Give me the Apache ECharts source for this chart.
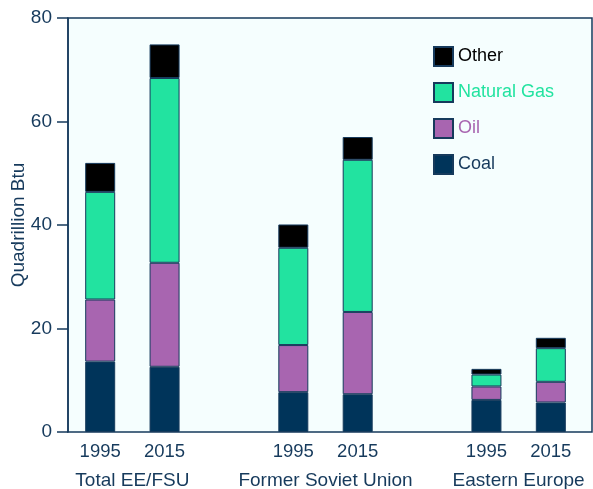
<!DOCTYPE html>
<html lang="en">
<head>
<meta charset="UTF-8">
<title>Energy consumption EE/FSU</title>
<script src="https://cdn.jsdelivr.net/npm/echarts@6/dist/echarts.min.js"></script>
<style>
  html, body { margin: 0; padding: 0; background: #fff; }
  #container { width: 593px; height: 489px; }
</style>
</head>
<body>
<div id="container"></div>
<script>
// eight slots, two empty ones separate the regions
var years = ['1995', '2015', '', '1995', '2015', '', '1995', '2015'];
// group names sit on slot boundaries (9 boundary positions)
var groups = ['', 'Total EE/FSU', '', '', 'Former Soviet Union', '', '', 'Eastern Europe', ''];

var coal  = [13.6, 12.6, '-', 7.7, 7.3, '-', 6.2, 5.7];
var oil   = [12.0, 20.1, '-', 9.1, 15.9, '-', 2.6, 4.0];
var gas   = [20.8, 35.7, '-', 18.8, 29.4, '-', 2.3, 6.5];
var other = [5.6, 6.5, '-', 4.5, 4.4, '-', 1.1, 2.0];

var yTicks = [0, 20, 40, 60, 80];

var navy = '#163a5c';
var font = 'Liberation Sans, Arial, sans-serif';

function barSeries(name, vals, color) {
    return {
        name: name,
        type: 'bar',
        stack: 'total',
        barWidth: 30,
        xAxisIndex: 0,
        yAxisIndex: 0,
        itemStyle: { color: color, borderColor: navy, borderWidth: 1 },
        data: vals
    };
}

var myChart = echarts.init(document.getElementById('container'));

var option = {
    animation: false,
    backgroundColor: '#ffffff',
    textStyle: { fontFamily: font },
    grid: [{
        // plotting grid: 8 slots of ~64.4px
        left: 68, top: 18, right: 10, bottom: 57,
        outerBoundsMode: 'none',
        containLabel: false
    }, {
        // frame of the plot area
        left: 68, top: 18, right: 1, bottom: 57,
        outerBoundsMode: 'none',
        containLabel: false,
        show: true,
        backgroundColor: '#f5fefe',
        borderColor: navy,
        borderWidth: 1.5
    }],
    legend: {
        orient: 'vertical',
        left: 433,
        top: 46,
        padding: 0,
        itemWidth: 19,
        itemHeight: 19,
        itemGap: 15,
        icon: 'rect',
        textStyle: { fontSize: 18, fontFamily: font },
        data: [
            { name: 'Other', textStyle: { color: '#000000' } },
            { name: 'Natural Gas', textStyle: { color: '#22e3a0' } },
            { name: 'Oil', textStyle: { color: '#a865b0' } },
            { name: 'Coal', textStyle: { color: navy } }
        ]
    },
    xAxis: [{
        type: 'category',
        gridIndex: 0,
        data: years,
        axisLine: { show: false },
        axisTick: { show: false },
        axisLabel: { color: navy, fontSize: 18.5, margin: 10, interval: 0 }
    }, {
        type: 'category',
        gridIndex: 0,
        position: 'bottom',
        offset: 30,
        boundaryGap: false,
        data: groups,
        axisLine: { show: false },
        axisTick: { show: false },
        axisLabel: { color: navy, fontSize: 19, margin: 9, interval: 0 }
    }, {
        type: 'value',
        gridIndex: 1,
        show: false
    }],
    yAxis: [{
        type: 'value',
        gridIndex: 0,
        min: yTicks[0],
        max: yTicks[yTicks.length - 1],
        interval: 20,
        name: 'Quadrillion Btu',
        nameLocation: 'middle',
        nameGap: 40,
        nameMoveOverlap: false,
        nameTextStyle: { color: navy, fontSize: 19, fontFamily: font },
        axisLine: { show: true, lineStyle: { color: navy, width: 1.5 } },
        axisTick: { show: true, length: 11, lineStyle: { color: navy, width: 1.5 } },
        splitLine: { show: false },
        axisLabel: { color: navy, fontSize: 19, margin: 16 }
    }, {
        type: 'value',
        gridIndex: 1,
        show: false
    }],
    series: [
        barSeries('Coal', coal, '#00345a'),
        barSeries('Oil', oil, '#a865b0'),
        barSeries('Natural Gas', gas, '#22e3a0'),
        barSeries('Other', other, '#000000')
    ]
};

myChart.setOption(option);
</script>
</body>
</html>
